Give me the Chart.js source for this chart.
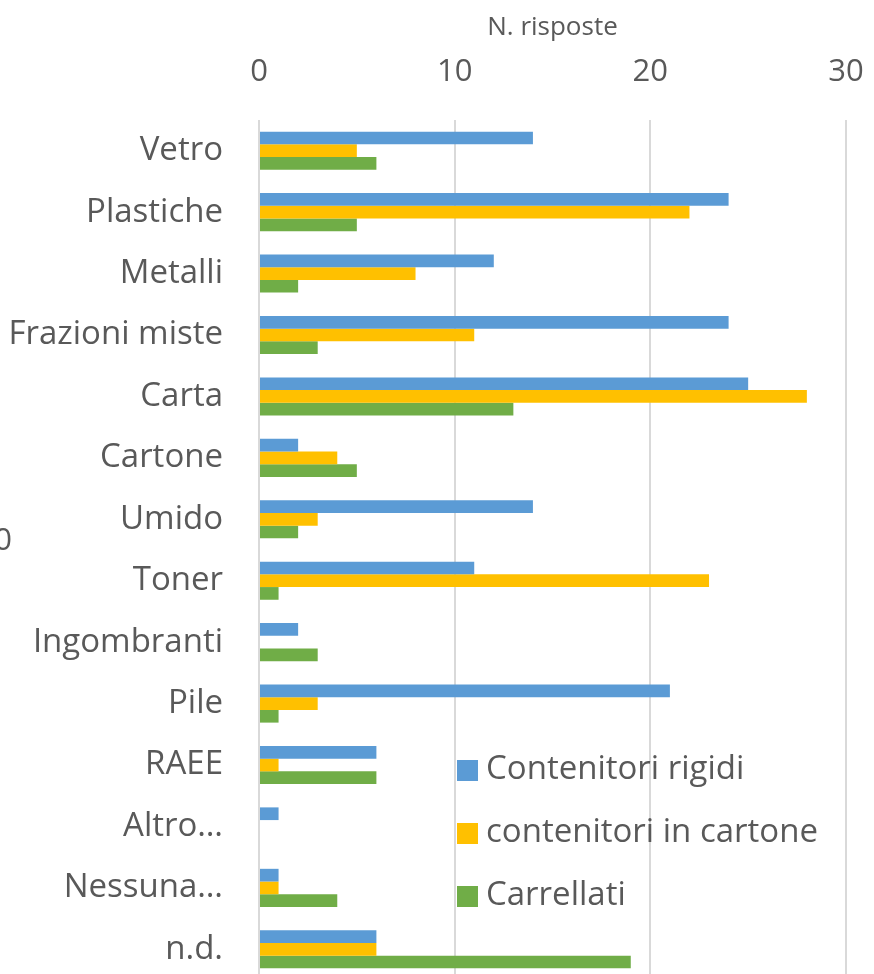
<!DOCTYPE html>
<html>
<head>
<meta charset="utf-8">
<script src="https://cdn.jsdelivr.net/npm/chart.js@4/dist/chart.umd.min.js"></script>
<style>
  html, body { margin: 0; padding: 0; background: #fff; overflow: hidden; }
  #wrap { width: 874px; height: 1000px; }
</style>
</head>
<body>
<div id="wrap"><canvas id="chart" width="874" height="1000"></canvas></div>
<script>
// Dati
const categories = ['Vetro', 'Plastiche', 'Metalli', 'Frazioni miste', 'Carta', 'Cartone', 'Umido',
  'Toner', 'Ingombranti', 'Pile', 'RAEE', 'Altro…', 'Nessuna…', 'n.d.'];
const rigidi   = [14, 24, 12, 24, 25, 2, 14, 11, 2, 21, 6, 1, 1, 6];
const cartone  = [5, 22, 8, 11, 28, 4, 3, 23, 0, 3, 1, 0, 1, 6];
const carrelli = [6, 5, 2, 3, 13, 5, 2, 1, 3, 1, 6, 0, 4, 19];
const xTicks = [0, 10, 20, 30];

const TEXT = '#595959';
const FONT = '"Open Sans", sans-serif';

// Legenda disegnata dentro l'area del grafico
const insideLegend = {
  id: 'insideLegend',
  afterDraw(chart) {
    const ctx = chart.ctx;
    ctx.save();
    ctx.font = '33px ' + FONT;
    ctx.textBaseline = 'middle';
    ctx.textAlign = 'left';
    chart.data.datasets.forEach((ds, i) => {
      const y = 770 + i * 63;
      ctx.fillStyle = ds.backgroundColor;
      ctx.fillRect(457, y - 10, 21, 21);
      ctx.fillStyle = TEXT;
      ctx.fillText(ds.label, 486, y);
    });
    // etichetta tagliata a sinistra
    ctx.textAlign = 'right';
    ctx.font = '31px ' + FONT;
    ctx.fillText('0', 12, 541);
    ctx.restore();
  }
};

new Chart(document.getElementById('chart'), {
  type: 'bar',
  data: {
    labels: categories,
    datasets: [
      { label: 'Contenitori rigidi', data: rigidi, backgroundColor: '#5b9bd5' },
      { label: 'contenitori in cartone', data: cartone, backgroundColor: '#ffc000' },
      { label: 'Carrellati', data: carrelli, backgroundColor: '#70ad47' }
    ]
  },
  options: {
    indexAxis: 'y',
    responsive: false,
    animation: false,
    layout: { padding: { top: 0, right: 28, bottom: 20, left: 0 } },
    datasets: { bar: { categoryPercentage: 0.62, barPercentage: 1.0 } },
    scales: {
      x: {
        position: 'top',
        min: 0,
        max: 30,
        afterBuildTicks: s => { s.ticks = xTicks.map(v => ({ value: v })); },
        afterFit: s => { s.height = 120; s.paddingLeft = 0; s.paddingRight = 0; },
        grid: { color: '#d9d9d9', lineWidth: 2, drawTicks: false },
        border: { display: false },
        ticks: { color: TEXT, font: { family: FONT, size: 31 }, padding: 29 },
        title: { display: true, text: 'N. risposte', color: TEXT, font: { family: FONT, size: 26 }, padding: { top: 12, bottom: 0 } }
      },
      y: {
        afterFit: s => { s.width = 259; s.paddingTop = 0; s.paddingBottom = 0; },
        grid: { display: false, drawTicks: false },
        border: { display: false },
        ticks: { color: TEXT, font: { family: FONT, size: 33 }, padding: 36, autoSkip: false }
      }
    },
    plugins: {
      legend: { display: false },
      tooltip: { enabled: false }
    }
  },
  plugins: [insideLegend]
});
</script>
</body>
</html>
